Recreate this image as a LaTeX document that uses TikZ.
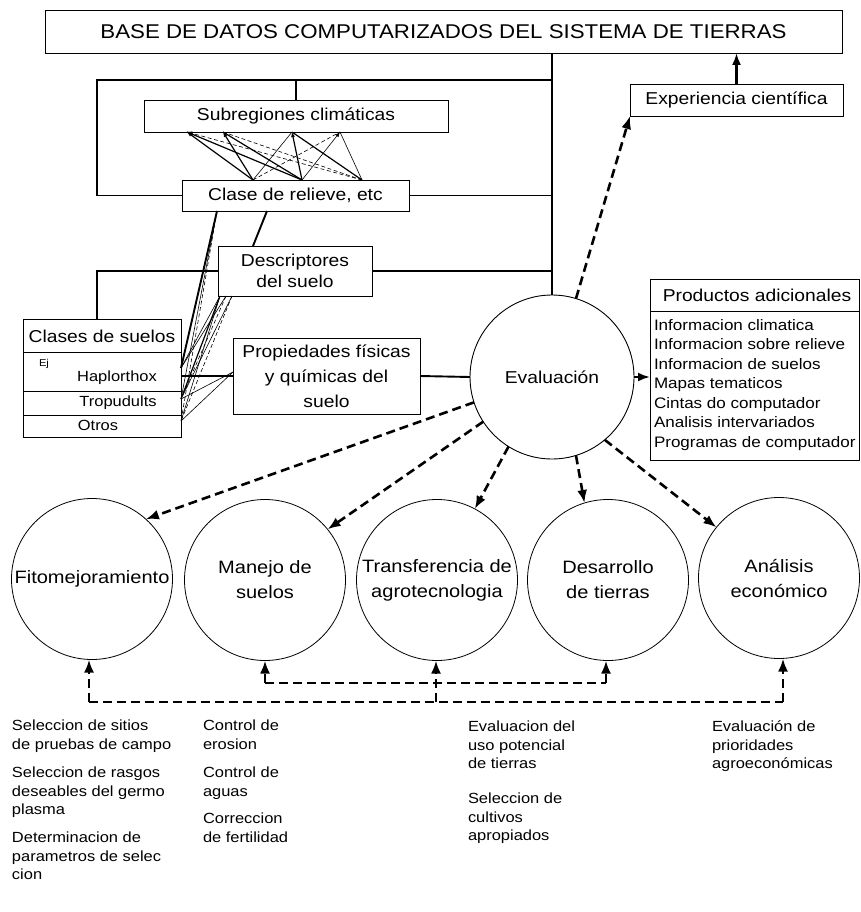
\documentclass[tikz,border=0pt]{standalone}
\usepackage{fontspec}
\setmainfont{Liberation Sans}[FakeStretch=1.12]
\usetikzlibrary{arrows.meta}
\tikzset{
  every node/.style={inner sep=0pt, outer sep=0pt},
  box/.style={draw, line width=0.8pt, align=center},
  circ/.style={draw, circle, line width=0.8pt, minimum size=161pt, align=center, fcirc},
  conn/.style={line width=1.9pt},
  fine/.style={line width=0.6pt},
  mid/.style={line width=1.2pt},
  dsh/.style={dash pattern=on 4pt off 2.5pt},
  tinyarr/.style={-{Latex[length=5pt,width=4pt]}},
  dline/.style={line width=2.6pt, dash pattern=on 9pt off 5pt},
  darr/.style={dline, -{Latex[length=13pt,width=10pt]}},
  sarr/.style={line width=2.2pt, -{Latex[length=12pt,width=9pt]}},
  ftitle/.style={font=\fontsize{19.9}{22}\selectfont},
  flab/.style={font=\fontsize{17.2}{21}\selectfont},
  fprop/.style={font=\fontsize{17.2}{25}\selectfont},
  fcirc/.style={font=\fontsize{17.9}{25}\selectfont},
  fitem/.style={font=\fontsize{15.2}{19.5}\selectfont},
  fsoil/.style={font=\fontsize{14.7}{18}\selectfont},
  fbot/.style={font=\fontsize{14.7}{18.5}\selectfont},
}
\begin{document}
\begin{tikzpicture}[x=1pt,y=-1pt]
\useasboundingbox (0,0) rectangle (860,912);

% ---------- boxes ----------
\node[box, minimum width=797pt, minimum height=43pt, ftitle] (top) at (443.5,31.5) {BASE DE DATOS COMPUTARIZADOS DEL SISTEMA DE TIERRAS};
\node[box, minimum width=304pt, minimum height=32pt, flab] (subreg) at (296,116) {Subregiones climáticas};
\node[box, minimum width=227pt, minimum height=31pt, flab] (clase) at (295.5,195.5) {Clase de relieve, etc};
\node[box, minimum width=154pt, minimum height=50pt, flab] (descr) at (295,271) {Descriptores\\del suelo};
\node[box, minimum width=158pt, minimum height=118pt] (cs) at (102,378) {};
\node[flab] (csT) at (102,336) {Clases de suelos};
\node[font=\fontsize{10}{12}\selectfont] (ej) at (44,364) {Ej};
\node[fsoil] (hap) at (117,378) {Haplorthox};
\node[fsoil] (trop) at (118,403) {Tropudults};
\node[fsoil] (otros) at (98,425) {Otros};
\draw[fine] (cs.west |- 0,352) -- (cs.east |- 0,352);
\draw[fine] (cs.west |- 0,391) -- (cs.east |- 0,391);
\draw[fine] (cs.west |- 0,415) -- (cs.east |- 0,415);

\node[box, minimum width=187pt, minimum height=76pt, fprop] (prop) at (326.5,376) {Propiedades físicas\\y químicas del\\suelo};
\node[draw, circle, line width=0.9pt, minimum size=164pt, flab] (eval) at (552,377) {Evaluación};
\node[box, minimum width=213pt, minimum height=32pt, flab] (exper) at (736.5,100) {Experiencia científica};

\node[box, minimum width=209pt, minimum height=181pt] (prod) at (754.5,369.5) {};
\node[flab] (prodT) at (757,295) {Productos adicionales};
\draw[fine] (prod.west |- 0,311) -- (prod.east |- 0,311);
\node[fitem, anchor=north west, align=left] (prodL) at (654,319) {Informacion climatica\\Informacion sobre relieve\\Informacion de suelos\\Mapas tematicos\\Cintas do computador\\Analisis intervariados\\Programas de computador};

% ---------- circles ----------
\node[circ] (fito) at (92,579) {Fitomejoramiento};
\node[circ] (manejo) at (265,580) {Manejo de\\suelos};
\node[circ] (transf) at (437,580) {Transferencia de\\agrotecnologia};
\node[circ] (desa) at (608,580) {Desarrollo\\de tierras};
\node[circ] (anal) at (779,578) {Análisis\\económico};

% ---------- solid frame ----------
\coordinate (fTL) at (97,80);
\draw[conn] (eval.north |- top.south) -- (eval.north);
\draw[conn] (fTL -| eval.north) -- (fTL) |- (clase.west);
\draw[conn] (subreg.north) -- (subreg.north |- fTL);
\draw[conn] (clase.east) -- (clase.east -| eval.north);
\draw[conn] (descr.east) -- (descr.east -| eval.north);
\draw[conn] (descr.west) -| (fTL |- cs.north);
\draw[conn] (prop.west) -- (prop.west -| cs.east);
\draw[conn] (prop.east) -- (eval.west);
\draw[sarr] (eval.east) -- (eval.east -| prod.west);
\draw[sarr] (exper.north) -- (exper.north |- top.south);

% ---------- criss-cross: subregiones / clase de relieve ----------
\coordinate (s1) at (187,132);
\coordinate (s2) at (223,132);
\coordinate (s3) at (292,132);
\coordinate (s4) at (340,132);
\coordinate (r1) at (253,180);
\coordinate (r2) at (302,180);
\coordinate (r3) at (362,180);
\draw[mid, tinyarr] (r1) -- (s1);
\draw[mid] (r2) -- (s1);
\draw[fine, dsh, tinyarr] (r3) -- (s1);
\draw[mid, tinyarr] (r1) -- (s2);
\draw[mid] (r2) -- (s2);
\draw[fine, dsh] (r3) -- (s2);
\draw[fine] (r1) -- (s3);
\draw[mid, tinyarr] (r2) -- (s3);
\draw[mid] (r3) -- (s3);
\draw[fine, dsh] (r1) -- (s4);
\draw[fine, tinyarr] (r2) -- (s4);
\draw[fine] (r3) -- (s4);

% ---------- fan to clases de suelos ----------
\coordinate (c1) at (217,211);
\coordinate (c2) at (267,211);
\coordinate (d0) at (253,246);
\coordinate (d1) at (220,296);
\coordinate (d2) at (226,296);
\coordinate (d3) at (232,296);
\coordinate (p1) at (233,372);
\coordinate (tH) at (181,368);
\coordinate (tT) at (181,399);
\coordinate (tO) at (181,421);
\draw[conn] (c2) -- (d0);
\draw[conn] (c1) -- (tH);
\draw[fine] (c1) -- (tT);
\draw[fine, dsh] (c1) -- (tO);
\draw[fine] (d1) -- (tH);
\draw[mid] (d1) -- (tT);
\draw[fine] (d1) -- (tO);
\draw[fine, dsh] (d2) -- (tT);
\draw[fine] (d2) -- (tH);
\draw[fine, dsh] (d3) -- (tO);
\draw[fine] (d3) -- (tT);
\draw[fine] (p1) -- (tT);
\draw[fine] (p1) -- (tO);

% ---------- dashed arrows from Evaluacion ----------
\draw[darr] (eval.73) -- (exper.south west);
\draw[darr] (eval.198) -- (fito.48);
\draw[darr] (eval.213) -- (manejo.39);
\draw[darr] (eval.238) -- (transf.62);
\draw[darr] (eval.287) -- (desa.107);
\draw[darr] (eval.310) -- (anal.141);

% ---------- dashed feedback lines ----------
\coordinate (lowL) at (89,702);
\coordinate (lowM) at (436,702);
\coordinate (lowR) at (783,702);
\coordinate (upL) at (265,683);
\coordinate (upR) at (606,683);
\draw[dline] (lowL) -- (lowR);
\draw[dline] (upL) -- (upR);
\draw[darr] (lowL) -- (lowL |- fito.south);
\draw[darr] (lowM) -- (lowM |- transf.south);
\draw[darr] (lowR) -- (lowR |- anal.south);
\draw[darr] (upL) -- (upL |- manejo.south);
\draw[darr] (upR) -- (upR |- desa.south);

% ---------- bottom texts ----------
\node[fbot, anchor=north west, align=left] (b1a) at (12,720) {Seleccion de sitios\\de pruebas de campo};
\node[fbot, anchor=north west, align=left] (b1b) at (12,767) {Seleccion de rasgos\\deseables del germo\\plasma};
\node[fbot, anchor=north west, align=left] (b1c) at (12,832) {Determinacion de\\parametros de selec\\cion};
\node[fbot, anchor=north west, align=left] (b2a) at (203,720) {Control de\\erosion};
\node[fbot, anchor=north west, align=left] (b2b) at (203,767) {Control de\\aguas};
\node[fbot, anchor=north west, align=left] (b2c) at (203,813) {Correccion\\de fertilidad};
\node[fbot, anchor=north west, align=left] (b3a) at (468,721) {Evaluacion del\\uso potencial\\de tierras};
\node[fbot, anchor=north west, align=left] (b3b) at (468,793) {Seleccion de\\cultivos\\apropiados};
\node[fbot, anchor=north west, align=left] (b4a) at (712,721) {Evaluación de\\prioridades\\agroeconómicas};
\end{tikzpicture}
\end{document}
